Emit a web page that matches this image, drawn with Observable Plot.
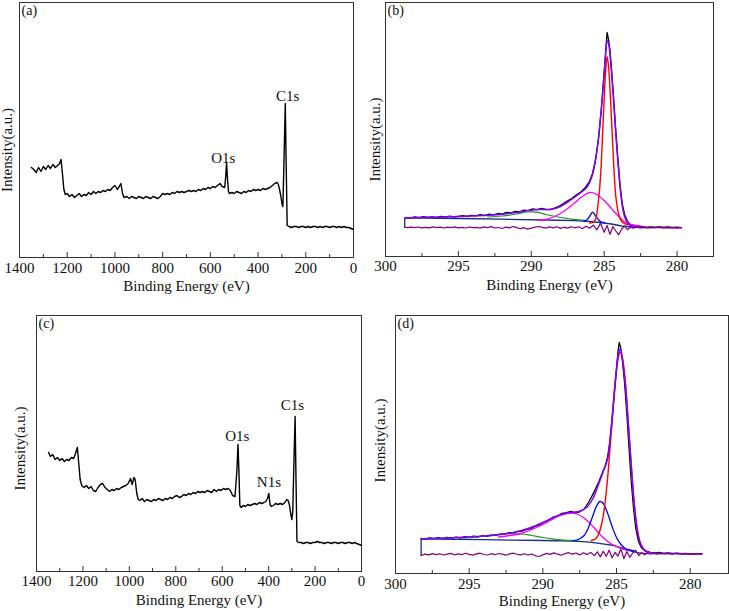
<!DOCTYPE html>
<html><head><meta charset="utf-8">
<script src="https://cdn.jsdelivr.net/npm/d3@7"></script>
<script src="https://cdn.jsdelivr.net/npm/@observablehq/plot@0.6"></script>
<style>
body{margin:0;background:#fff;}
#wrap{position:relative;width:729px;height:611px;background:#fff;overflow:hidden;}
.panel{position:absolute;}
.panel svg, .panel svg text, .panel svg tspan{font-family:"Liberation Serif","Times New Roman",serif !important;}
</style></head><body><div id="wrap"></div>
<script>
// ---------- tick labels ----------
const surveyTicks = [1400,1200,1000,800,600,400,200,0];
const surveyMinor = [1300,1100,900,700,500,300,100];
const hiresTicks = [300,295,290,285,280];
const hiresMinor = [297.5,292.5,287.5,282.5];

// ---------- (a) survey spectrum [eV, intensity] ----------
const surveyA = [[1350,90],[1340,88],[1330,85],[1320,90],[1310,86],[1300,91],[1290,88],[1280,92],[1270,89],[1260,93],[1250,90],[1240,92],[1232,94],[1226,98],[1220,84],[1214,68],[1208,63],[1200,64],[1190,61],[1180,63],[1170,60],[1160,62],[1150,64],[1140,61],[1130,63],[1120,62],[1110,65],[1100,63],[1090,66],[1080,64],[1070,66],[1060,65],[1050,67],[1040,66],[1030,68],[1020,67],[1010,70],[1000,72],[990,68],[982,71],[975,74],[968,64],[962,60],[950,61],[940,59],[930,61],[920,60],[910,59],[900,61],[890,60],[880,59],[870,61],[860,60],[850,59],[840,61],[830,60],[820,59],[810,61],[800,64],[790,63],[780,64],[770,63],[760,65],[750,64],[740,66],[730,65],[720,66],[710,65],[700,66],[690,67],[680,66],[670,67],[660,66],[650,68],[640,67],[630,69],[620,68],[610,70],[600,69],[590,71],[580,70],[570,72],[560,74],[550,71],[540,70],[536,80],[532,95],[528,78],[524,66],[520,64],[510,65],[500,64],[490,66],[480,65],[470,64],[460,66],[450,65],[440,67],[430,66],[420,68],[410,67],[400,68],[390,67],[380,69],[370,68],[360,69],[350,70],[340,72],[330,74],[320,75],[315,73],[310,68],[305,62],[300,54],[296,51],[291,100],[286,154],[282,90],[278,32],[270,31],[260,30],[250,31],[240,31],[230,30],[220,31],[210,31],[200,30],[190,31],[180,30],[170,31],[160,31],[150,30],[140,31],[130,30],[120,31],[110,31],[100,30],[90,31],[80,31],[70,30],[60,31],[50,30],[40,31],[30,30],[20,30],[10,29],[0,28]];
const labelsA = [["C1s",276,161],["O1s",546,99]];

// ---------- (c) survey spectrum [eV, intensity] ----------
const surveyC = [[1348,119],[1340,115],[1330,117],[1320,112],[1310,114],[1300,111],[1290,113],[1280,110],[1270,112],[1260,111],[1250,114],[1240,113],[1232,118],[1224,124],[1218,108],[1212,92],[1205,86],[1195,84],[1185,86],[1175,83],[1165,85],[1155,81],[1145,80],[1135,84],[1125,87],[1115,88],[1105,84],[1095,82],[1085,80],[1075,82],[1065,81],[1055,83],[1045,82],[1035,84],[1025,85],[1015,86],[1005,88],[995,93],[988,87],[980,94],[975,92],[968,78],[962,72],[955,71],[945,73],[935,70],[925,72],[915,71],[905,70],[895,72],[885,71],[875,73],[865,72],[855,71],[845,73],[835,72],[825,74],[815,73],[805,75],[795,76],[785,74],[775,75],[765,77],[755,76],[745,78],[735,77],[725,79],[715,78],[705,80],[695,79],[685,80],[675,79],[665,81],[655,80],[645,79],[635,82],[625,80],[615,82],[605,81],[595,83],[585,82],[575,83],[565,81],[555,76],[545,75],[537,100],[532,127],[528,100],[524,66],[518,64],[510,66],[500,65],[490,67],[480,66],[470,67],[460,68],[450,67],[440,69],[430,68],[420,69],[412,70],[405,73],[399,78],[394,67],[388,65],[380,66],[370,68],[360,67],[350,68],[340,67],[330,69],[322,72],[316,71],[310,66],[305,58],[300,52],[296,60],[291,110],[286,155],[282,90],[278,30],[270,29],[260,29],[250,28],[240,29],[230,29],[220,28],[210,29],[200,29],[190,30],[180,29],[170,29],[160,28],[150,29],[140,29],[130,28],[120,29],[110,29],[100,28],[90,29],[80,29],[70,28],[60,29],[50,29],[40,28],[30,29],[20,28],[10,27],[0,26]];
const labelsC = [["C1s",298,166],["O1s",535,135],["N1s",399,89]];

// ---------- (b) C1s high resolution [eV, intensity] ----------
const bData = [[298.6,39.2],[298.3,38.4],[298,39.6],[297.7,38.8],[297.4,39.9],[297.1,39.0],[296.8,39.7],[296.5,38.9],[296.2,40.1],[295.9,39.3],[295.6,40.4],[295.3,39.5],[295,40.2],[294.7,40.9],[294.4,40.0],[294.1,41.2],[293.8,40.6],[293.5,41.8],[293.2,41.0],[292.9,42.3],[292.6,41.7],[292.3,43.0],[292,42.4],[291.7,44.1],[291.4,43.5],[291.1,45.2],[290.8,44.6],[290.5,46.3],[290.2,45.8],[289.9,47.6],[289.6,46.9],[289.3,48.2],[289,47.0],[288.7,46.8],[288.4,48.5],[288.1,50.2],[287.8,53.0],[287.5,55.6],[287.2,58.3],[286.9,61.8],[286.6,64.5],[286.3,68.9],[286,75],[285.8,83],[285.6,96],[285.4,116],[285.2,146],[285.0,184],[284.9,204],[284.8,224],[284.7,217],[284.6,206],[284.5,188],[284.35,158],[284.2,125],[284.05,96],[283.9,70],[283.75,52],[283.6,42],[283.4,35],[283.2,31.5],[283,30.3],[282.7,29.6],[282.4,29.9],[282.1,29.2],[281.8,29.7],[281.5,29.1],[281.2,29.6],[280.9,29.0],[280.6,29.5],[280.3,28.9],[280,29.3],[279.7,28.8]];
const bEnvelope = [[298.65,38.7],[297,39.2],[295.5,39.8],[294,40.6],[293,41.3],[292,42.3],[291,44],[290.5,45.2],[290,46.3],[289.5,47],[289,47],[288.5,47.5],[288,50],[287.5,54.5],[287,59.5],[286.5,65],[286.2,69],[286,74],[285.8,82],[285.6,96],[285.4,117],[285.2,147],[285.0,183],[284.9,202],[284.8,216],[284.7,213],[284.6,202],[284.5,185],[284.35,155],[284.2,122],[284.05,93],[283.9,68],[283.75,50],[283.6,40],[283.4,34],[283.2,31],[283,30],[282.5,29.2],[281,28.9],[279.7,28.7]];
const bRed = [[286.0,33.5],[285.8,34],[285.6,37],[285.4,55],[285.3,70],[285.2,93],[285.1,125],[285.0,157],[284.9,185],[284.8,200],[284.7,190],[284.6,168],[284.5,138],[284.4,108],[284.3,80],[284.2,60],[284.0,42],[283.8,35],[283.6,33],[283.4,32]];
const bMagenta = [[289.5,36],[289,37],[288.5,39.5],[288,43],[287.5,48],[287,54],[286.5,60],[286,64],[285.5,62],[285,56],[284.5,48],[284,40],[283.5,34],[283,31.5],[282.5,30.5]];
const bBlue = [[286.4,35.5],[286.2,36.5],[286.0,40],[285.8,44.3],[285.6,41],[285.4,37],[285.2,34.5],[285.0,34]];
const bGreen = [[293,39.5],[292,40.5],[291,42.5],[290.3,44.5],[289.6,44.3],[289,42],[288.5,40.5],[288,39],[287.5,38],[287,37],[286.5,36.3],[286.2,36]];
const bBaseline = [[298.68,29.3],[298.68,38.7],[295,38],[292,37.3],[289,36.5],[287,35.8],[286,35],[285.3,34],[284.5,32.5],[283.8,30.5],[283,29.5],[282.4,29]];
const bResidual = [[298.68,29.3],[298.5,28.8],[298.25,29.4],[298,28.9],[297.75,29.5],[297.5,28.6],[297.25,29.2],[297,28.7],[296.75,29.6],[296.5,28.9],[296.25,29.3],[296,28.5],[295.75,29.4],[295.5,28.8],[295.25,29.7],[295,28.7],[294.75,29.1],[294.5,28.5],[294.25,29.5],[294,28.8],[293.75,29.2],[293.5,28.4],[293.25,29.6],[293,28.9],[292.75,29.9],[292.5,28.5],[292.25,29.0],[292,28.0],[291.75,29.4],[291.5,28.6],[291.25,30.0],[291,28.9],[290.75,27.8],[290.5,28.8],[290.25,27.4],[290,28.4],[289.75,29.4],[289.5,30.0],[289.25,29.1],[289,28.4],[288.75,29.6],[288.5,28.6],[288.25,29.8],[288,28.1],[287.75,29.3],[287.5,28.4],[287.25,29.8],[287,28.7],[286.75,29.7],[286.5,27.8],[286.25,30.2],[286,28.2],[285.75,31.3],[285.5,26.6],[285.25,33.3],[285,24.2],[284.8,31],[284.6,22.2],[284.4,30],[284.2,25.5],[284,21.7],[283.8,27.5],[283.6,30.3],[283.4,26.8],[283.2,29.2],[283,28.4],[282.75,29.3],[282.5,28.7],[282.25,29.2],[282,28.6],[281.75,29.2],[281.5,28.9],[281.25,29.3],[281,28.7],[280.75,29.1],[280.5,28.8],[280.25,29.2],[280,28.7],[279.7,28.9]];

// ---------- (d) C1s high resolution [eV, intensity] ----------
const dData = [[298.26,35.2],[298,34.4],[297.7,35.6],[297.4,34.8],[297.1,35.9],[296.8,34.9],[296.5,36.1],[296.2,35.3],[295.9,36.4],[295.6,35.5],[295.3,36.8],[295,36.1],[294.7,37.3],[294.4,36.5],[294.1,37.8],[293.8,37.2],[293.5,38.4],[293.2,38.1],[292.9,39.5],[292.6,39.2],[292.3,40.8],[292,40.6],[291.7,42.1],[291.4,42.3],[291.1,44.2],[290.8,44.9],[290.5,47.3],[290.2,48.6],[289.9,51.5],[289.6,53.2],[289.3,56.4],[289,57.3],[288.7,60.1],[288.4,60.8],[288.1,62.2],[287.8,60.4],[287.5,61.7],[287.2,64.5],[286.95,69.8],[286.7,76.5],[286.45,83.9],[286.2,91.8],[285.95,101],[285.75,108],[285.6,117],[285.45,132],[285.3,155],[285.15,180],[285.0,205],[284.9,222],[284.82,231],[284.72,226],[284.6,213],[284.45,190],[284.3,160],[284.15,125],[284.0,92],[283.85,66],[283.7,46],[283.5,31.5],[283.3,25.5],[283.0,22.3],[282.7,21.2],[282.4,20.6],[282.1,21.1],[281.8,20.2],[281.5,20.7],[281.2,19.9],[280.9,20.4],[280.6,19.6],[280.3,20.1],[280,19.5],[279.7,19.9],[279.2,19.6]];
const dEnvelope = [[298.26,34.7],[297,35.2],[296,35.7],[295,36.4],[294,37.4],[293,38.8],[292.5,39.8],[292,41],[291.5,42.8],[291,45],[290.5,47.8],[290,51],[289.5,54.5],[289,57.8],[288.5,60],[288,61.2],[287.5,62.2],[287,66.5],[286.6,75],[286.3,86],[285.9,102],[285.6,115],[285.45,132],[285.3,155],[285.15,182],[285.0,205],[284.85,221],[284.75,225],[284.6,215],[284.4,190],[284.2,150],[284.0,108],[283.8,70],[283.6,45],[283.4,31],[283.2,25],[283.0,22],[282.7,20.8],[282.3,20.3],[281,19.9],[279.2,19.7]];
const dRed = [[286.7,33],[286.4,35],[286.2,40],[286.0,50],[285.8,68],[285.6,96],[285.4,133],[285.2,170],[285.0,203],[284.85,218],[284.75,221],[284.6,215],[284.4,190],[284.2,150],[284.0,108],[283.8,70],[283.6,44],[283.4,31],[283.2,25],[283.0,22.5],[282.8,21.5]];
const dBlue = [[288.0,32.8],[287.6,34],[287.2,38],[286.9,46],[286.6,58],[286.4,66],[286.13,72],[285.9,70],[285.6,60],[285.3,47],[285.0,36],[284.7,29],[284.4,25],[284.1,23.5],[283.8,22.5]];
const dMagenta = [[293,36.5],[292,38.5],[291.5,40],[291,42.5],[290.5,45.5],[290,49],[289.5,53],[289,57],[288.5,59.5],[288.12,60.3],[287.7,59.5],[287.3,56.5],[287,53],[286.6,47],[286.2,40.5],[285.8,34.5],[285.4,30],[285,27],[284.6,24.5],[284.2,23]];
const dGreen = [[295.5,35.3],[295,35.8],[294.5,36.6],[294,37.5],[293.5,38.4],[293,39.1],[292.5,39.6],[292,39.8],[291.5,39.5],[291,38.6],[290.5,37.3],[290,36],[289.5,34.9],[289,34],[288.5,33.4],[288,33],[287.6,32.7]];
const dBaseline = [[298.26,18],[298.26,34.7],[296,34.2],[294,33.8],[292,33.4],[290,33],[288,32.4],[287,31.6],[286.3,30.3],[285.7,29.2],[285.2,28],[284.7,25.8],[284.3,23.7],[283.8,21.6],[283.4,20.3],[283,19.8]];
const dResidual = [[298.26,18],[298,19.4],[297.75,18.6],[297.5,19.9],[297.25,18.9],[297,19.7],[296.75,18.5],[296.5,19.4],[296.25,20.1],[296,18.7],[295.75,19.6],[295.5,18.9],[295.25,20.2],[295,19.1],[294.75,18.4],[294.5,19.6],[294.25,20.3],[294,19.0],[293.75,18.5],[293.5,19.8],[293.25,18.8],[293,20.0],[292.75,19.3],[292.5,18.3],[292.25,19.6],[292,20.3],[291.75,19.2],[291.5,18.6],[291.25,19.7],[291,18.5],[290.75,19.5],[290.5,17.7],[290.25,17.0],[290,18.6],[289.75,20.1],[289.5,19.1],[289.25,20.6],[289,19.3],[288.75,18.3],[288.5,19.8],[288.25,20.8],[288,19.4],[287.75,20.5],[287.5,18.6],[287.25,20.7],[287,18.9],[286.75,21.1],[286.5,17.8],[286.3,21.6],[286.1,16.6],[285.9,22.3],[285.7,17.2],[285.5,23.3],[285.3,15.7],[285.1,21],[284.9,17.4],[284.7,24.4],[284.5,14.8],[284.3,22],[284.1,16.2],[283.9,20.5],[283.7,23.3],[283.5,18],[283.3,21],[283.1,18.7],[282.9,20.4],[282.7,19.3],[282.5,20],[282.25,19.4],[282,20.2],[281.75,19.6],[281.5,20.1],[281.25,19.4],[281,20],[280.75,19.5],[280.5,19.9],[280.25,19.3],[280,19.9],[279.75,19.6],[279.5,19.8],[279.2,19.5]];

// ---------- drawing ----------
const FONT = "Liberation Serif";
const COL = {data:"#000000", env:"#8000ff", red:"#ff0000", magenta:"#ff00ff", blue:"#0000ff", green:"#1a9a1a", base:"#1c2a8c", resid:"#800080"};

function axesMarks({ticks, minor, plotH, tagText, yLabelDx, yLabelDy, tickPad, labelOff}) {
  return [
    Plot.frame({stroke: "#333", strokeWidth: 1}),
    Plot.ruleX(ticks, {x: d => d, insetTop: plotH - 5, stroke: "#333"}),
    Plot.ruleX(minor, {x: d => d, insetTop: plotH - 3, stroke: "#333"}),
    Plot.axisX({ticks, tickSize: 0, tickPadding: tickPad, tickFormat: d => String(d),
      label: "Binding Energy (eV)", labelAnchor: "center", labelArrow: "none", labelOffset: labelOff,
      fontSize: 15, fontFamily: FONT, fill: "#111"}),
    Plot.text([tagText], {frameAnchor: "top-left", dx: 2, dy: 3, lineAnchor: "top", textAnchor: "start", fontSize: 14, fontFamily: FONT, fill: "#111"}),
    Plot.text(["Intensity(a.u.)"], {frameAnchor: "left", textAnchor: "middle", lineAnchor: "middle", rotate: -90, dx: yLabelDx, dy: yLabelDy, fontSize: 15, fontFamily: FONT, fill: "#111"})
  ];
}

function surveyPanel({data, labels, w, h, ml, mr, mt, mb, ymax, tag, ylDx, ylDy, tickPad, labelOff}) {
  const plotH = h - mt - mb;
  return Plot.plot({
    width: w, height: h, marginLeft: ml, marginRight: mr, marginTop: mt, marginBottom: mb,
    style: {fontFamily: FONT, fontSize: "15px", background: "white", color: "#111", overflow: "visible"},
    x: {domain: [1400, 0]},
    y: {domain: [0, ymax], axis: null},
    marks: [
      ...axesMarks({ticks: surveyTicks, minor: surveyMinor, plotH, tagText: tag, yLabelDx: ylDx, yLabelDy: ylDy, tickPad, labelOff}),
      Plot.line(data, {x: d => d[0], y: d => d[1], stroke: COL.data, strokeWidth: 1.4}),
      Plot.text(labels, {x: d => d[1], y: d => d[2], text: d => d[0], fontSize: 15, fontFamily: FONT, fill: "#111"})
    ]
  });
}

function hiresPanel({s, w, h, ml, mr, mt, mb, ymax, xmin, tag, ylDx, ylDy, tickPad, labelOff}) {
  const plotH = h - mt - mb;
  const L = (arr, stroke, sw, curve) => Plot.line(arr, {x: d => d[0], y: d => d[1], stroke, strokeWidth: sw, curve});
  return Plot.plot({
    width: w, height: h, marginLeft: ml, marginRight: mr, marginTop: mt, marginBottom: mb,
    style: {fontFamily: FONT, fontSize: "15px", background: "white", color: "#111", overflow: "visible"},
    x: {domain: [300, xmin]},
    y: {domain: [0, ymax], axis: null},
    marks: [
      ...axesMarks({ticks: hiresTicks, minor: hiresMinor, plotH, tagText: tag, yLabelDx: ylDx, yLabelDy: ylDy, tickPad, labelOff}),
      L(s.data, COL.data, 1.3, "linear"),
      L(s.base, COL.base, 1.3, "linear"),
      L(s.green, COL.green, 1.2, "catmull-rom"),
      L(s.magenta, COL.magenta, 1.3, "catmull-rom"),
      L(s.blue, COL.blue, 1.3, "catmull-rom"),
      L(s.red, COL.red, 1.4, "catmull-rom"),
      L(s.env, COL.env, 1.5, "catmull-rom"),
      L(s.resid, COL.resid, 1.2, "linear")
    ]
  });
}

const wrap = document.getElementById("wrap");
function place(svg, left, top) {
  const div = document.createElement("div");
  div.className = "panel";
  div.style.left = left + "px";
  div.style.top = top + "px";
  div.appendChild(svg);
  wrap.appendChild(div);
}

place(surveyPanel({data: surveyA, labels: labelsA, w: 365, h: 300, ml: 19, mr: 12, mt: 2, mb: 43, ymax: 255, tag: "(a)", ylDx: -12, ylDy: 20, tickPad: 5, labelOff: 33}), 0, 0);
place(hiresPanel({s: {data: bData, env: bEnvelope, red: bRed, magenta: bMagenta, blue: bBlue, green: bGreen, base: bBaseline, resid: bResidual},
  w: 359, h: 300, ml: 15, mr: 16, mt: 2, mb: 44, ymax: 254, xmin: 277.5, tag: "(b)", ylDx: -10, ylDy: 10, tickPad: 4, labelOff: 33}), 370, 0);
place(surveyPanel({data: surveyC, labels: labelsC, w: 370, h: 311, ml: 36, mr: 9, mt: 15, mb: 40, ymax: 256, tag: "(c)", ylDx: -16, ylDy: 5, tickPad: 4, labelOff: 33}), 0, 300);
place(hiresPanel({s: {data: dData, env: dEnvelope, red: dRed, magenta: dMagenta, blue: dBlue, green: dGreen, base: dBaseline, resid: dResidual},
  w: 359, h: 311, ml: 25, mr: 1, mt: 15, mb: 38, ymax: 258, xmin: 277.4, tag: "(d)", ylDx: -15, ylDy: -4, tickPad: 5, labelOff: 32}), 370, 300);
</script></body></html>
